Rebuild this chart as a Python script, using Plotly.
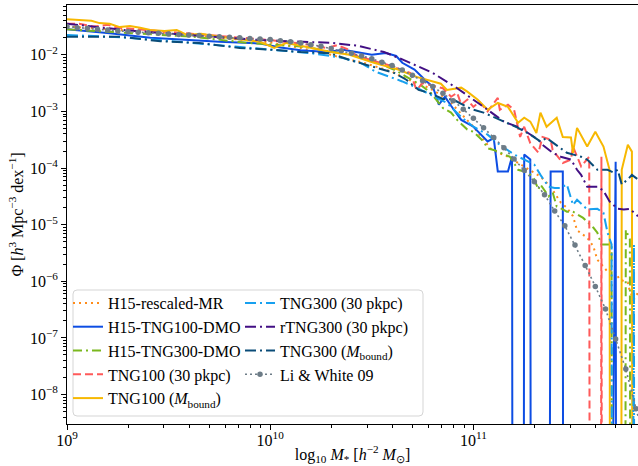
import plotly.graph_objects as go

# ---------------- data: log10 M* and log10 Phi (None = empty bin, Phi = 0) -------------
names = ["H15-rescaled-MR", "H15-TNG100-DMO", "H15-TNG300-DMO", "TNG100 (30 pkpc)",
         "TNG100 (<i>M</i><sub>bound</sub>)", "TNG300 (30 pkpc)", "rTNG300 (30 pkpc)",
         "TNG300 (<i>M</i><sub>bound</sub>)", "Li &amp; White 09"]

m_orange = [9.00, 9.25, 9.50, 9.75, 10.00, 10.15, 10.30, 10.37, 10.45, 10.54, 10.60, 10.65, 10.70,
            10.78, 10.84, 10.89, 10.95, 11.00, 11.05, 11.09, 11.17, 11.22, 11.27, 11.33, 11.38, 11.43,
            11.46, 11.49, 11.51, 11.56, 11.59, 11.61, 11.64, 11.66, 11.69, 11.72, 11.76, 11.77, 11.79, 11.81]
lp_orange = [-1.50, -1.56, -1.62, -1.70, -1.78, -1.88, -2.00, -2.07, -2.13, -2.23, -2.30, -2.39, -2.47,
             -2.58, -2.71, -2.85, -3.09, -3.27, -3.50, -3.68, -3.80, -3.91, -4.03, -4.15, -4.33, -4.61,
             -4.70, -4.85, -5.10, -5.23, -5.38, -5.62, -5.74, -5.83, -5.79, -5.97, -6.02, -6.18, -6.32, -6.20]

m_blue = [9.00, 9.21, 9.41, 9.59, 9.75, 9.95, 10.05, 10.15, 10.28, 10.36, 10.43, 10.50, 10.57, 10.62,
          10.65, 10.71, 10.77, 10.80, 10.83, 10.86, 10.89, 10.94, 11.00, 11.05, 11.07, 11.10, 11.12,
          11.17, 11.19, 11.22, 11.25, 11.28, 11.31, 11.38, 11.41, 11.44, 11.46, 11.70, 11.73]
lp_blue = [-1.55, -1.62, -1.70, -1.74, -1.77, -1.80, -1.87, -1.92, -1.95, -1.91, -1.95, -2.00, -1.97, -2.02,
           -2.14, -2.26, -2.47, -2.56, -2.88, -2.74, -2.90, -3.15, -3.27, -3.45, -3.53, -3.47, -4.06,
           -4.06, -3.80, None, -3.76, -3.85, None, -4.06, -4.06, -4.06, None, -3.89, None]

m_green = [9.00, 9.21, 9.62, 9.89, 10.18, 10.30, 10.40, 10.50, 10.62, 10.70, 10.74, 10.79, 10.85, 10.89,
           10.92, 10.97, 11.00, 11.05, 11.07, 11.10, 11.18, 11.22, 11.27, 11.30, 11.32, 11.33, 11.37,
           11.39, 11.41, 11.44, 11.46, 11.49, 11.54, 11.59, 11.61, 11.63, 11.66, 11.68, 11.71, 11.75,
           11.77, 11.80]
lp_green = [-1.55, -1.59, -1.68, -1.79, -1.86, -1.95, -2.00, -2.10, -2.28, -2.45, -2.53, -2.67, -2.94, -3.02,
            -3.15, -3.32, -3.36, -3.53, -3.65, -3.68, -3.80, -4.03, -4.08, -4.20, -4.38, -4.29, -4.50,
            -4.43, -4.68, -4.73, -4.77, -4.77, -4.88, -5.05, -5.14, -5.35, -5.35, -5.35, None, -5.09,
            -5.26, None]

m_red = [9.00, 9.06, 9.13, 9.20, 9.25, 9.35, 9.50, 9.75, 10.00, 10.15, 10.28, 10.33, 10.38, 10.43, 10.58,
         10.69, 10.72, 10.75, 10.85, 10.89, 10.92, 10.94, 10.97, 11.00, 11.03, 11.07, 11.12, 11.13, 11.17,
         11.20, 11.23, 11.25, 11.28, 11.32, 11.34, 11.38, 11.39, 11.44, 11.48, 11.49, 11.53, 11.57, 11.60,
         11.63, 11.66]
lp_red = [-1.45, -1.45, -1.50, -1.47, -1.52, -1.55, -1.60, -1.67, -1.74, -1.80, -1.88, -1.83, -1.90, -2.02, -2.18,
          -2.32, -2.62, -2.50, -2.59, -2.74, -2.67, -2.88, -2.79, -2.92, -2.83, -3.00, -2.76, -2.97, -2.88,
          -2.97, -3.45, -3.27, -3.56, -3.73, -3.45, -3.50, -3.68, -3.91, -3.85, -3.62, -3.97, -3.80, None,
          -3.80, None]

m_yellow = [9.00, 9.06, 9.12, 9.16, 9.21, 9.26, 9.31, 9.36, 9.41, 9.48, 9.54, 9.59, 9.66, 9.75, 9.89, 9.95,
            10.02, 10.08, 10.18, 10.30, 10.39, 10.51, 10.63, 10.72, 10.84, 10.87, 10.94, 10.97, 11.02, 11.07,
            11.12, 11.17, 11.22, 11.25, 11.28, 11.31, 11.33, 11.36, 11.41, 11.44, 11.48, 11.49, 11.51, 11.56,
            11.60, 11.64, 11.67, 11.70, 11.73, 11.76, 11.78, 11.81]
lp_yellow = [-1.37, -1.38, -1.40, -1.44, -1.45, -1.51, -1.49, -1.52, -1.56, -1.58, -1.56, -1.65, -1.63, -1.68,
             -1.74, -1.77, -1.88, -1.79, -1.86, -1.95, -2.00, -2.14, -2.26, -2.39, -2.51, -2.62, -2.58, -2.65,
             -2.79, -2.97, -2.85, -2.92, -3.20, -3.11, -3.18, -3.38, -3.02, -3.27, -3.11, -3.45, -3.46, -3.73,
             -3.29, -3.62, -3.36, -3.62, -4.03, None, -4.03, -3.59, -3.71, None]

m_lblue = [9.00, 9.21, 9.39, 9.62, 9.89, 10.05, 10.20, 10.35, 10.45, 10.52, 10.65, 10.72, 10.77, 10.87,
           10.94, 11.00, 11.07, 11.13, 11.20, 11.25, 11.30, 11.33, 11.37, 11.40, 11.43, 11.46, 11.49, 11.51,
           11.56, 11.61, 11.64, 11.66, 11.68, 11.71, 11.79, 11.81]
lp_lblue = [-1.65, -1.68, -1.72, -1.79, -1.88, -1.92, -1.97, -2.05, -2.15, -2.30, -2.47, -2.58, -2.67, -2.85,
            -3.10, -3.27, -3.41, -3.59, -3.76, -3.85, -3.94, -4.12, -4.33, -4.35, -4.35, -4.29, -4.65, -4.56,
            -4.73, -4.72, -4.79, -5.14, -5.35, None, -5.35, None]

m_purple = [9.00, 9.30, 9.49, 9.95, 10.31, 10.43, 10.56, 10.65, 10.80, 10.92, 11.07, 11.15, 11.23, 11.32,
            11.34, 11.39, 11.43, 11.48, 11.51, 11.53, 11.56, 11.61, 11.64, 11.67, 11.71, 11.74, 11.77, 11.81]
lp_purple = [-1.45, -1.57, -1.62, -1.74, -1.79, -1.84, -1.95, -2.08, -2.32, -2.59, -2.97, -3.18, -3.29, -3.50,
             -3.59, -3.73, -3.80, -3.85, -4.03, -4.12, -4.33, -4.33, -4.40, -4.59, -4.72, -4.73, -4.72, -4.85]

m_navy = [9.00, 9.06, 9.26, 9.46, 9.65, 9.85, 10.01, 10.15, 10.29, 10.40, 10.50, 10.61, 10.67, 10.73, 10.78,
          10.85, 10.90, 10.99, 11.05, 11.15, 11.22, 11.28, 11.33, 11.36, 11.43, 11.46, 11.53, 11.56, 11.61,
          11.66, 11.69, 11.71, 11.73, 11.76, 11.78, 11.81]
lp_navy = [-1.68, -1.68, -1.68, -1.76, -1.79, -1.88, -1.91, -1.95, -1.97, -2.10, -2.21, -2.32, -2.44, -2.62,
           -2.67, -2.78, -2.79, -2.96, -3.02, -3.18, -3.29, -3.41, -3.53, -3.47, -3.65, -3.73, -3.80, -3.85,
           -4.03, -4.03, -4.08, -4.03, -4.29, -4.20, -4.12, -4.20]

m_gray = [9.00, 9.05, 9.10, 9.15, 9.20, 9.25, 9.30, 9.35, 9.40, 9.45, 9.50, 9.55, 9.60, 9.65, 9.70, 9.75,
          9.80, 9.85, 9.90, 9.95, 10.00, 10.05, 10.10, 10.15, 10.20, 10.25, 10.30, 10.35, 10.40, 10.45,
          10.50, 10.55, 10.60, 10.65, 10.70, 10.75, 10.80, 10.85, 10.90, 10.95, 11.00, 11.05, 11.10, 11.15,
          11.20, 11.25, 11.30, 11.35, 11.40, 11.45, 11.50, 11.55, 11.60, 11.65, 11.70, 11.75, 11.80, 11.85]
lp_gray = [-1.50, -1.52, -1.53, -1.55, -1.56, -1.58, -1.59, -1.60, -1.61, -1.62, -1.63, -1.64, -1.65, -1.66,
           -1.67, -1.68, -1.69, -1.70, -1.71, -1.72, -1.73, -1.75, -1.77, -1.79, -1.82, -1.85, -1.89, -1.93,
           -1.97, -2.02, -2.07, -2.13, -2.19, -2.27, -2.36, -2.46, -2.56, -2.68, -2.81, -2.96, -3.12, -3.29,
           -3.46, -3.64, -3.84, -4.04, -4.24, -4.47, -4.76, -5.02, -5.36, -5.72, -6.09, -6.49, -7.02, -7.55,
           -8.25, -8.90]

x_tick_vals = [1e9, 1e10, 1e11]
x_tick_text = ["10<sup>9</sup>", "10<sup>10</sup>", "10<sup>11</sup>"]
y_tick_vals = [1e-8, 1e-7, 1e-6, 1e-5, 1e-4, 1e-3, 1e-2]
y_tick_text = ["10<sup>\u22128</sup>", "10<sup>\u22127</sup>", "10<sup>\u22126</sup>", "10<sup>\u22125</sup>",
               "10<sup>\u22124</sup>", "10<sup>\u22123</sup>", "10<sup>\u22122</sup>"]
x_minor_vals = [k * 10.0 ** e for e in (9, 10, 11) for k in range(2, 10)]
y_minor_vals = [k * 10.0 ** e for e in range(-9, -1) for k in range(2, 10)]

X_RANGE = [9, 11.81]
Y_RANGE = [-8.52, -1.12]

# ---------------- styles -------------
FONT = "Liberation Serif"
series = [
    (m_orange, lp_orange, "#ff8c1a", "2px,4px", "legend"),
    (m_blue, lp_blue, "#0d4de3", "solid", "legend"),
    (m_green, lp_green, "#7ab81e", "9px,4px,2px,4px", "legend"),
    (m_red, lp_red, "#ff5a5a", "8px,4px", "legend"),
    (m_yellow, lp_yellow, "#f7b801", "solid", "legend"),
    (m_lblue, lp_lblue, "#17a0ef", "11px,4px,2px,4px", "legend2"),
    (m_purple, lp_purple, "#420f84", "11px,4px,2px,4px", "legend2"),
    (m_navy, lp_navy, "#0a4c78", "11px,4px,2px,4px", "legend2"),
]

fig = go.Figure()
for i, (m, lp, col, dash, lg) in enumerate(series):
    xs = [10.0 ** v for v in m]
    phi = [10.0 ** v if v is not None else 0.0 for v in lp]
    ys = [p if p > 0 else 1e-100 for p in phi]   # empty bins drop to the axis (log clip)
    fig.add_trace(go.Scatter(x=xs, y=ys, mode="lines", name=names[i], legend=lg,
                             line=dict(color=col, width=2, dash=dash)))

fig.add_trace(go.Scatter(x=[10.0 ** v for v in m_gray], y=[10.0 ** v for v in lp_gray],
                         mode="lines+markers", name=names[8], legend="legend2",
                         line=dict(color="#6d7c87", width=1.6, dash="2px,3px"),
                         marker=dict(color="#6d7c87", size=5.5)))

# empty helper trace so the minor-tick axes exist
fig.add_trace(go.Scatter(x=[], y=[], xaxis="x2", yaxis="y2", showlegend=False, hoverinfo="skip"))

axis_common = dict(type="log", showgrid=False, zeroline=False, linecolor="black",
                   linewidth=1, ticks="outside", tickwidth=1, tickcolor="black", automargin=False,
                   tickfont=dict(family=FONT, size=16, color="black"))

fig.update_layout(
    width=638, height=466,
    margin=dict(l=67, r=0, t=5, b=42),
    paper_bgcolor="white", plot_bgcolor="white",
    font=dict(family=FONT, size=16, color="black"),
    xaxis=dict(axis_common, range=X_RANGE, showline=True, mirror=True, ticklen=5, tickmode="array",
               tickvals=x_tick_vals, ticktext=x_tick_text, ticklabelstandoff=-3,
               title=dict(text="log<sub>10</sub> <i>M</i><sub>*</sub> [<i>h</i><sup>\u22122</sup> <i>M</i><sub>\u2299</sub>]",
                          font=dict(family=FONT, size=16), standoff=0)),
    yaxis=dict(axis_common, range=Y_RANGE, showline=True, mirror=False, ticklen=5, tickmode="array",
               tickvals=y_tick_vals, ticktext=y_tick_text,
               title=dict(text="\u03a6 [<i>h</i><sup>3</sup> Mpc<sup>\u22123</sup> dex<sup>\u22121</sup>]",
                          font=dict(family=FONT, size=16), standoff=2)),
    xaxis2=dict(axis_common, range=X_RANGE, overlaying="x", anchor="y2", side="bottom", showline=False,
                ticklen=3, tickmode="array", tickvals=x_minor_vals, showticklabels=False),
    yaxis2=dict(axis_common, range=Y_RANGE, overlaying="y", anchor="x2", side="left", showline=False,
                ticklen=3, tickmode="array", tickvals=y_minor_vals, showticklabels=False),
    legend=dict(x=(68 - 67) / 571, y=(424 - 286) / 419, xanchor="left", yanchor="top",
                bgcolor="rgba(0,0,0,0)", borderwidth=0, font=dict(family=FONT, size=16),
                itemwidth=30, tracegroupgap=0),
    legend2=dict(x=(240 - 67) / 571, y=(424 - 286) / 419, xanchor="left", yanchor="top",
                 bgcolor="rgba(0,0,0,0)", borderwidth=0, font=dict(family=FONT, size=16),
                 itemwidth=30, tracegroupgap=0),
)

# legend frame (rounded rectangle in paper coordinates)
x0, x1 = (73 - 67) / 571, (423 - 67) / 571
y0, y1 = (424 - 416) / 419, (424 - 290) / 419
rx, ry = 4 / 571, 4 / 419
path = (f"M{x0+rx},{y0} L{x1-rx},{y0} Q{x1},{y0} {x1},{y0+ry} L{x1},{y1-ry} Q{x1},{y1} {x1-rx},{y1} "
        f"L{x0+rx},{y1} Q{x0},{y1} {x0},{y1-ry} L{x0},{y0+ry} Q{x0},{y0} {x0+rx},{y0} Z")
fig.add_shape(type="path", path=path, xref="paper", yref="paper", layer="above",
              line=dict(color="#d5d5d5", width=1), fillcolor="rgba(255,255,255,0.8)")

fig.write_html("out.html", config={"displayModeBar": False},
               post_script="document.body.style.margin='0px';")
